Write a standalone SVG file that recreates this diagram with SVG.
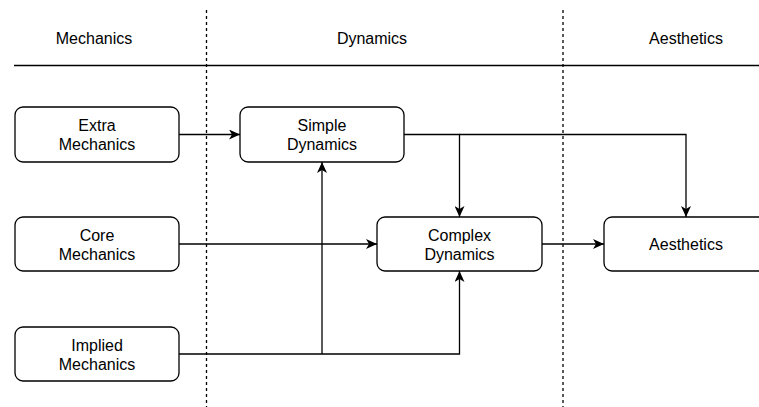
<svg xmlns="http://www.w3.org/2000/svg" width="759" height="407" viewBox="0 0 759 407">
<style>
.box{fill:#fff;stroke:#000;stroke-width:1.3}
.t{font-family:"Liberation Sans",Arial,sans-serif;font-size:16px;fill:#000;text-anchor:middle}
.c{fill:none;stroke:#000;stroke-width:1.3}
.d{fill:none;stroke:#000;stroke-width:1.3;stroke-dasharray:3 3}
</style>
<defs>
<marker id="a" markerWidth="12" markerHeight="10" viewBox="0 0 12 10" refX="11" refY="5" orient="auto" markerUnits="userSpaceOnUse">
<path d="M0,0 L11,5 L0,10 L3,5 Z" fill="#000"/>
</marker>
</defs>
<g id="lanes">
<line class="d" x1="206.5" y1="10" x2="206.5" y2="407"/>
<line class="d" x1="563" y1="10" x2="563" y2="407"/>
<line class="c" x1="14" y1="65.5" x2="759" y2="65.5"/>
<text class="t" x="94" y="44">Mechanics</text>
<text class="t" x="372" y="44">Dynamics</text>
<text class="t" x="686" y="44">Aesthetics</text>
</g>
<g id="connectors">
<line class="c" x1="179" y1="134.5" x2="240" y2="134.5" marker-end="url(#a)"/>
<polyline class="c" points="404,134.5 459.5,134.5 459.5,217" marker-end="url(#a)"/>
<polyline class="c" points="459.5,134.5 686,134.5 686,217" marker-end="url(#a)"/>
<line class="c" x1="179" y1="244" x2="377" y2="244" marker-end="url(#a)"/>
<polyline class="c" points="179,354 459.5,354 459.5,271" marker-end="url(#a)"/>
<polyline class="c" points="322,354 322,162" marker-end="url(#a)"/>
<line class="c" x1="542" y1="244" x2="604" y2="244" marker-end="url(#a)"/>
</g>
<g id="extra">
<rect class="box" x="15" y="107" width="164" height="55" rx="8"/>
<text class="t" x="97" y="131">Extra</text>
<text class="t" x="97" y="150">Mechanics</text>
</g>
<g id="simple">
<rect class="box" x="240" y="107" width="164" height="55" rx="8"/>
<text class="t" x="322" y="131">Simple</text>
<text class="t" x="322" y="150">Dynamics</text>
</g>
<g id="core">
<rect class="box" x="15" y="217" width="164" height="54" rx="8"/>
<text class="t" x="97" y="241">Core</text>
<text class="t" x="97" y="260">Mechanics</text>
</g>
<g id="implied">
<rect class="box" x="15" y="327" width="164" height="54" rx="8"/>
<text class="t" x="97" y="351">Implied</text>
<text class="t" x="97" y="370">Mechanics</text>
</g>
<g id="complex">
<rect class="box" x="377" y="217" width="165" height="54" rx="8"/>
<text class="t" x="459.5" y="241">Complex</text>
<text class="t" x="459.5" y="260">Dynamics</text>
</g>
<g id="aesthetics">
<rect class="box" x="604" y="217" width="164" height="54" rx="8"/>
<text class="t" x="686" y="250">Aesthetics</text>
</g>
</svg>
